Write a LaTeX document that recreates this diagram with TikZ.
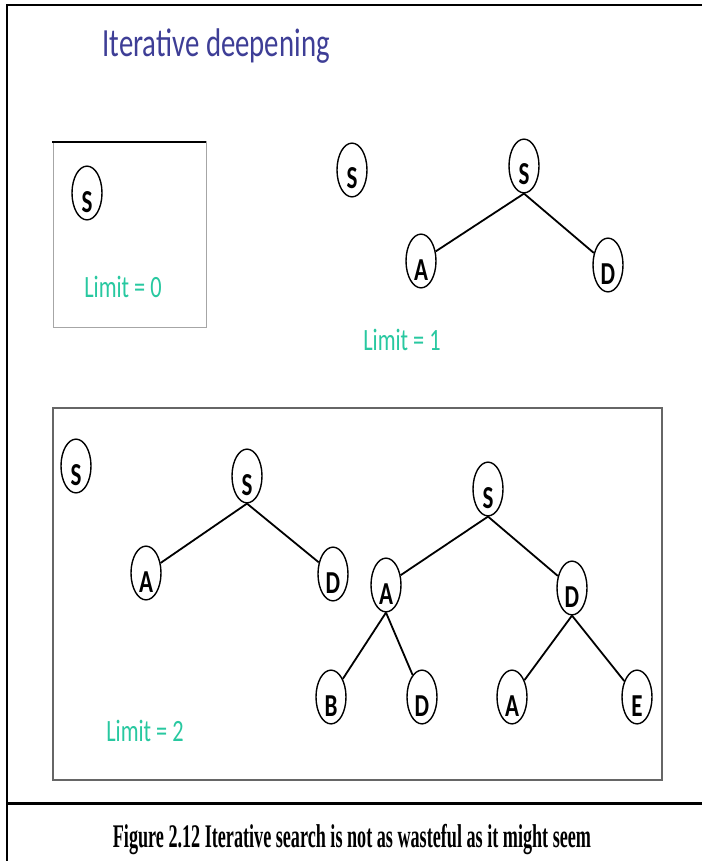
\documentclass[tikz,border=0pt]{standalone}
\usepackage{fontspec}
\usepackage{xcolor}
\usepackage{tikz}
\usetikzlibrary{shapes}

\newfontfamily\slidefont[FakeStretch=0.72]{Carlito}
\newfontfamily\capfont[FakeStretch=0.55]{Liberation Serif}
\definecolor{titleblue}{RGB}{62,62,150}
\definecolor{limitgreen}{RGB}{40,200,160}

\begin{document}
\begin{tikzpicture}[x=1pt, y=-1pt,
		vertex/.style={ellipse, draw, line width=1.4pt, minimum width=30pt, minimum height=46pt,
			inner sep=0pt, text height=38pt, text depth=0pt, font=\slidefont\bfseries\fontsize{32}{32}\selectfont},
		limitlabel/.style={text=limitgreen, font=\slidefont\fontsize{31}{31}\selectfont},
		branch/.style={line width=1.8pt}]
	\useasboundingbox (0,0) rectangle (702,861);
	% page frame and caption rule
	\draw[line width=2pt] (7,861) -- (7,5) -- (702,5);
	\draw[line width=3pt] (7,803) -- (702,803);
	\node[anchor=base west, text=titleblue, font=\slidefont\fontsize{40}{40}\selectfont]
	(title) at (99,57) {Iterative deepening};

	% limit 0
	\draw[gray!70, line width=1pt] (53,142) rectangle (206,327);
	\draw[line width=2pt] (52,142) -- (206,142);
	\node[vertex] (s0) at (87,193) {S};
	\node[limitlabel] (lim0) at (123,287) {Limit = 0};

	% limit 1
	\node[vertex] (s1a) at (352,170) {S};
	\node[vertex] (s1) at (524,166) {S};
	\node[vertex] (a1) at (421,261) {A};
	\node[vertex] (d1) at (608,265) {D};
	\foreach \c in {a1, d1}
	\draw[branch] (s1.south) -- (\c);
	\node[limitlabel] (lim1) at (402,340) {Limit = 1};

	% limit 2
	\draw[gray!80!black, line width=1.2pt] (53,408) rectangle (662,780);
	\node[vertex] (s2a) at (76,466) {S};
	\node[vertex] (s2b) at (247,476) {S};
	\node[vertex] (a2b) at (146,573) {A};
	\node[vertex] (d2b) at (333,574) {D};
	\foreach \c in {a2b, d2b}
	\draw[branch] (s2b.south) -- (\c);
	\node[vertex] (s2) at (488,489) {S};
	\node[vertex] (a2) at (386,585) {A};
	\node[vertex] (d2) at (572,588) {D};
	\node[vertex] (b3) at (331,697) {B};
	\node[vertex] (d3) at (422,697) {D};
	\node[vertex] (a3) at (512,697) {A};
	\node[vertex] (e3) at (637,697) {E};
	\foreach \p/\c in {s2/a2, s2/d2, a2/b3, a2/d3, d2/a3, d2/e3}
	\draw[branch] (\p.south) -- (\c);
	\node[limitlabel] (lim2) at (145,731) {Limit = 2};

	\node[anchor=base, font=\capfont\bfseries\fontsize{33}{33}\selectfont] (caption) at (352,847)
	{Figure 2.12 Iterative search is not as wasteful as it might seem};
\end{tikzpicture}
\end{document}
